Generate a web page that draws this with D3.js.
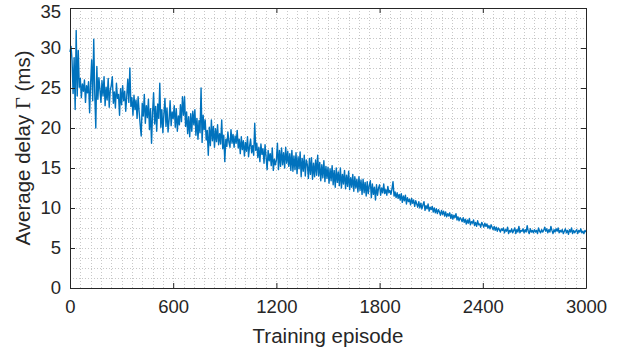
<!DOCTYPE html>
<html>
<head>
<meta charset="utf-8">
<script src="https://cdn.jsdelivr.net/npm/d3@7"></script>
<style>
  body { margin: 0; background: #fff; }
  text { font-family: "Liberation Sans", Arial, sans-serif; fill: #262626; }
</style>
</head>
<body>
<script>
const STEP = 6;
const delay = [
  29.5, 30.2, 28.4, 24.3, 28.8, 22.3, 32.2, 24.0, 29.7, 25.1,
  26.2, 23.8, 25.5, 24.6, 26.0, 23.2, 25.3, 24.4, 25.8, 21.9,
  25.6, 28.5, 23.4, 31.1, 24.2, 20.0, 27.7, 23.6, 26.3, 24.8,
  23.2, 25.9, 24.0, 26.4, 22.8, 25.1, 23.5, 26.2, 22.6, 24.7,
  25.3, 26.4, 23.1, 24.5, 22.5, 25.6, 23.7, 24.2, 21.6, 24.9,
  22.9, 25.3, 23.4, 24.6, 22.1, 24.0, 26.1, 23.2, 27.5, 22.7,
  23.8, 21.6, 24.1, 22.3, 23.5, 21.2, 23.9, 22.0, 20.4, 19.0,
  23.1, 21.5, 24.2, 20.6, 22.8, 21.3, 23.6, 19.8, 22.4, 18.1,
  21.9, 24.4, 20.5, 22.7, 19.6, 23.0, 21.2, 25.6, 20.1, 22.3,
  19.4, 21.8, 23.7, 20.2, 22.5, 19.5, 21.0, 23.4, 20.3, 22.0,
  21.2, 22.8, 20.1, 22.4, 19.6, 21.5, 20.4, 22.9, 20.8, 23.9,
  21.6, 23.9, 20.2, 22.0, 19.3, 21.4, 18.9, 21.8, 19.6, 22.1,
  20.4, 22.3, 19.1, 21.2, 18.6, 20.9, 19.4, 25.0, 18.2, 21.6,
  19.8, 21.0, 18.5, 19.7, 16.6, 20.1, 17.8, 21.0, 18.4, 20.2,
  17.6, 19.9, 18.3, 20.4, 17.9, 19.3, 18.0, 21.0, 17.4, 19.1,
  15.8, 18.6, 17.7, 19.5, 18.2, 17.6, 19.8, 18.1, 19.2, 17.6,
  19.0, 18.1, 19.7, 17.5, 18.6, 16.8, 18.9, 17.3, 18.4, 16.5,
  18.2, 17.1, 18.9, 16.4, 17.7, 18.6, 16.9, 17.8, 16.6, 20.6,
  17.2, 18.1, 16.3, 17.6, 15.8, 18.0, 16.7, 17.4, 15.6, 17.9,
  16.4, 14.8, 17.2, 15.9, 16.8, 15.3, 17.5, 14.7, 16.1, 15.4,
  16.0, 18.1, 14.8, 17.2, 15.2, 17.5, 15.4, 16.9, 15.0, 17.6,
  15.6, 17.1, 15.2, 16.8, 14.7, 17.2, 14.6, 16.5, 14.8, 16.9,
  14.3, 16.4, 14.9, 17.0, 13.9, 16.2, 14.6, 16.6, 14.0, 16.0,
  15.4, 13.7, 16.2, 14.2, 16.3, 13.6, 15.6, 13.9, 16.0, 14.1,
  16.6, 14.0, 15.7, 13.4, 15.4, 13.8, 15.9, 13.3, 15.2, 13.7,
  15.1, 13.1, 14.9, 13.4, 15.3, 12.9, 14.7, 12.6, 15.0, 13.2,
  14.5, 12.8, 15.0, 12.5, 14.2, 13.0, 14.7, 12.4, 14.1, 12.7,
  14.6, 12.3, 13.8, 12.6, 14.2, 12.1, 13.9, 12.5, 13.6, 12.0,
  13.9, 12.2, 13.5, 11.7, 13.6, 11.9, 13.2, 11.5, 13.3, 11.8,
  12.8, 13.4, 11.3, 13.0, 11.7, 12.6, 11.0, 12.9, 11.6, 12.5,
  12.9, 11.6, 12.5, 11.9, 13.0, 11.8, 12.3, 11.6, 12.7, 11.9,
  12.2, 11.7, 12.4, 13.3, 11.5, 12.0, 11.3, 11.9, 11.2, 11.7,
  11.0, 11.8, 10.7, 11.5, 10.9, 11.6, 10.5, 11.3, 10.8, 11.1,
  10.4, 11.2, 10.6, 11.0, 10.2, 10.9, 10.5, 10.1, 10.8, 10.0,
  10.6, 9.9, 10.4, 10.8, 9.7, 10.3, 9.9, 10.5, 9.6, 10.1,
  9.8, 10.2, 9.5, 10.0, 9.4, 9.9, 9.3, 9.8, 9.5, 9.1,
  9.7, 9.2, 9.6, 9.0, 9.5, 8.9, 9.3, 9.0, 9.4, 8.7,
  9.2, 8.6, 9.1, 8.8, 9.3, 8.5, 8.9, 8.4, 8.8, 8.6,
  8.3, 8.8, 8.2, 8.6, 8.0, 8.5, 8.1, 8.7, 7.9, 8.3,
  8.1, 8.5, 7.8, 8.2, 7.7, 8.4, 7.9, 8.0, 7.6, 8.2,
  7.9, 7.6, 8.1, 7.7, 8.0, 7.5, 7.8, 7.4, 7.9, 7.6,
  7.3, 7.7, 7.2, 7.6, 7.1, 7.5, 7.3, 7.0, 7.4, 7.2,
  7.5, 6.9, 7.3, 7.1, 7.6, 6.8, 7.2, 7.0, 7.4, 6.9,
  7.2, 7.5, 6.8, 7.3, 7.0, 7.7, 6.9, 7.2, 7.1, 7.4,
  6.9, 7.3, 7.0, 7.8, 7.1, 6.8, 7.4, 7.0, 7.2, 6.9,
  7.3, 7.0, 7.2, 6.8, 7.5, 7.1, 6.9, 7.3, 7.0, 7.2,
  7.6, 7.1, 7.4, 6.9, 7.3, 7.0, 7.7, 7.2, 6.8, 7.3,
  7.0, 7.4, 7.1, 7.5, 6.9, 7.2, 7.0, 7.3, 6.8, 7.1,
  7.4, 6.9, 7.2, 6.7, 7.3, 7.0, 7.5, 6.8, 7.2, 6.9,
  7.1, 7.3, 6.8, 7.2, 7.0, 7.4, 6.9, 7.1, 6.8, 7.2,
  7.0
];
const xTicks = [0, 600, 1200, 1800, 2400, 3000];
const yTicks = [0, 5, 10, 15, 20, 25, 30, 35];

const W = 628, H = 356;
const margin = {top: 8, right: 42, bottom: 68, left: 70};
const width = W - margin.left - margin.right,
      height = H - margin.top - margin.bottom;

const svg = d3.select("body").append("svg")
    .attr("width", W)
    .attr("height", H);
const g = svg.append("g")
    .attr("transform", "translate(" + margin.left + "," + margin.top + ")");

const x = d3.scaleLinear().domain([0, 3000]).range([0, width]);
const y = d3.scaleLinear().domain([0, 35]).range([height, 0]);

// minor + major grid, all dotted like the matlab figure
const gx = d3.range(0, 3001, 60), gy = d3.range(0, 35.01, 1.25);
g.append("g").selectAll("line").data(gx).join("line")
    .attr("x1", d => Math.round(x(d)) + 0.5).attr("x2", d => Math.round(x(d)) + 0.5)
    .attr("y1", 0).attr("y2", height)
    .attr("stroke", "#c8c8c8").attr("stroke-dasharray", "1,2");
g.append("g").selectAll("line").data(gy).join("line")
    .attr("y1", d => Math.round(y(d)) + 0.5).attr("y2", d => Math.round(y(d)) + 0.5)
    .attr("x1", 0).attr("x2", width)
    .attr("stroke", "#c8c8c8").attr("stroke-dasharray", "1,2");

// the curve
const line = d3.line().x((d, i) => x(i * STEP)).y(d => y(d));
g.append("path").datum(delay)
    .attr("d", line)
    .attr("fill", "none")
    .attr("stroke", "#0072BD")
    .attr("stroke-width", 1.4)
    .attr("stroke-linejoin", "round");

// axes, ticks pointing inward, box on
const fs = "18.5px";
const fmt = d3.format("d");
const ax = g.append("g").attr("transform", "translate(0," + height + ")")
    .call(d3.axisBottom(x).tickValues(xTicks).tickFormat(fmt).tickSizeInner(-5).tickSizeOuter(0).tickPadding(12));
const ay = g.append("g")
    .call(d3.axisLeft(y).tickValues(yTicks).tickFormat(fmt).tickSizeInner(-5).tickSizeOuter(0).tickPadding(9));
const axT = g.append("g")
    .call(d3.axisTop(x).tickValues(xTicks).tickSizeInner(-5).tickSizeOuter(0).tickFormat(""));
const ayR = g.append("g").attr("transform", "translate(" + width + ",0)")
    .call(d3.axisRight(y).tickValues(yTicks).tickSizeInner(-5).tickSizeOuter(0).tickFormat(""));
[ax, ay, axT, ayR].forEach(a => {
    a.selectAll("path, line").attr("stroke", "#262626");
    a.selectAll("text").style("font-size", fs).attr("fill", "#262626")
        .style("font-family", "'Liberation Sans', Arial, sans-serif");
});
// top label sits a little lower, as in the figure
ay.selectAll(".tick").filter(d => d === 35).select("text").attr("dy", "0.5em");

// labels
svg.append("text")
    .attr("x", margin.left + width / 2)
    .attr("y", 343)
    .attr("text-anchor", "middle")
    .style("font-size", "20.5px")
    .text("Training episode");

const yl = svg.append("text")
    .attr("transform", "translate(30," + (margin.top + height / 2) + ") rotate(-90)")
    .attr("text-anchor", "middle")
    .style("font-size", "20.5px");
yl.append("tspan").text("Average delay ");
yl.append("tspan").style("font-family", "'Liberation Serif', 'Times New Roman', serif").text("Γ");
yl.append("tspan").text(" (ms)");
</script>
</body>
</html>
